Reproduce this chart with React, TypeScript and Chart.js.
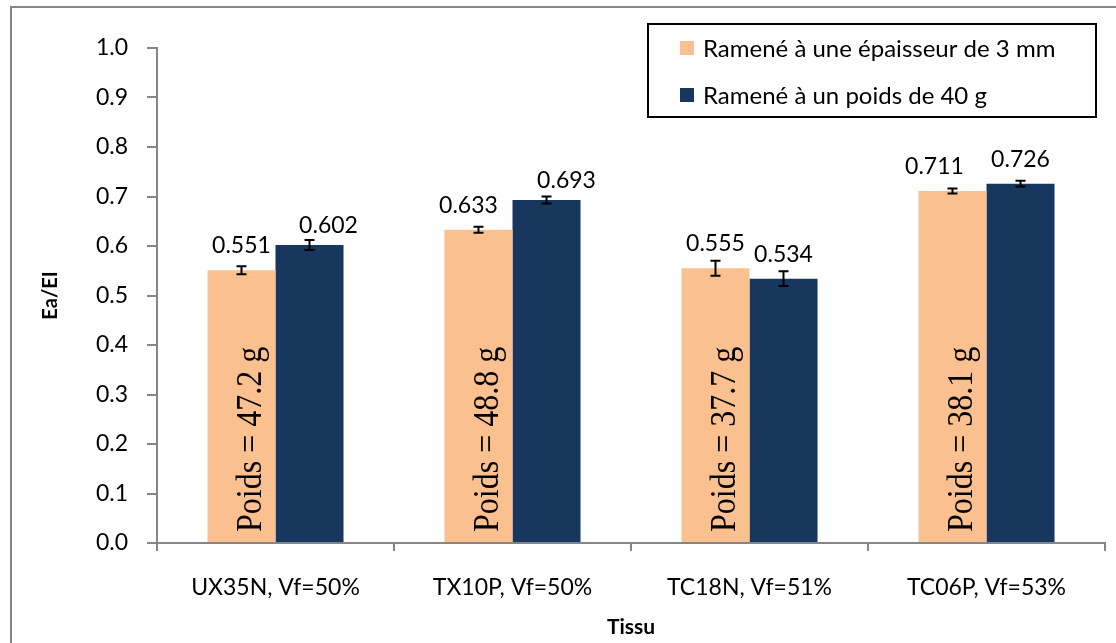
import React, { useEffect, useRef } from "react";
import { Chart, registerables } from "chart.js";

Chart.register(...registerables);

const categories = ["UX35N, Vf=50%", "TX10P, Vf=50%", "TC18N, Vf=51%", "TC06P, Vf=53%"];
const seriesNames = ["Ramené à une épaisseur de 3 mm", "Ramené à un poids de 40 g"];
const thicknessValues = [0.551, 0.633, 0.555, 0.711];
const weightValues = [0.602, 0.693, 0.534, 0.726];
const thicknessErrors = [0.008, 0.006, 0.015, 0.005];
const weightErrors = [0.01, 0.007, 0.015, 0.006];
const poidsLabels = ["Poids = 47.2 g", "Poids = 48.8 g", "Poids = 37.7 g", "Poids = 38.1 g"];
const yAxisTitle = "Ea/EI";
const xAxisTitle = "Tissu";

const ORANGE = "#FAC090";
const NAVY = "#17375E";
const AXIS_GREY = "#868686";
const SANS = "Lato, 'Open Sans', sans-serif";

const frameBorder = {
  id: "frameBorder",
  beforeDraw(chart: any) {
    const { ctx, width, height } = chart;
    ctx.save();
    ctx.fillStyle = "#ffffff";
    ctx.fillRect(0, 0, width, height);
    ctx.strokeStyle = AXIS_GREY;
    ctx.lineWidth = 2;
    ctx.beginPath();
    ctx.moveTo(11, height + 5);
    ctx.lineTo(11, 7);
    ctx.lineTo(width + 5, 7);
    ctx.stroke();
    ctx.restore();
  },
};

const errorAndLabels = {
  id: "errorAndLabels",
  afterDatasetsDraw(chart: any, _args: any, opts: any) {
    const { ctx } = chart;
    const yScale = chart.scales.y;
    ctx.save();
    chart.data.datasets.forEach((ds: any, di: number) => {
      const meta = chart.getDatasetMeta(di);
      meta.data.forEach((bar: any, i: number) => {
        const v = ds.data[i];
        const e = ds.errors[i];
        const x = bar.x;
        const yTop = yScale.getPixelForValue(v + e);
        const yBot = yScale.getPixelForValue(v - e);
        ctx.strokeStyle = "#000";
        ctx.lineWidth = 2;
        ctx.beginPath();
        ctx.moveTo(x, yTop);
        ctx.lineTo(x, yBot);
        ctx.moveTo(x - 5, yTop);
        ctx.lineTo(x + 5, yTop);
        ctx.moveTo(x - 5, yBot);
        ctx.lineTo(x + 5, yBot);
        ctx.stroke();
        const nudge = opts.nudges[di][i];
        ctx.fillStyle = "#000";
        ctx.font = `23px ${SANS}`;
        ctx.textAlign = "center";
        ctx.textBaseline = "alphabetic";
        ctx.fillText(v.toFixed(3), x + nudge[0], bar.y - 17 + nudge[1]);
        if (di === 0) {
          ctx.save();
          ctx.translate(x + 20, yScale.getPixelForValue(0) - 11);
          ctx.rotate(-Math.PI / 2);
          ctx.scale(1, 1.12);
          ctx.font = `32px 'Liberation Serif', 'Times New Roman', serif`;
          ctx.textAlign = "left";
          ctx.textBaseline = "alphabetic";
          ctx.fillStyle = "#000";
          ctx.fillText(poidsLabels[i], 0, 0);
          ctx.restore();
        }
      });
    });
    ctx.restore();
  },
};

const boxLegend = {
  id: "boxLegend",
  afterDraw(chart: any) {
    const { ctx } = chart;
    ctx.save();
    ctx.strokeStyle = "#000";
    ctx.lineWidth = 2;
    ctx.strokeRect(648, 24, 448, 93);
    chart.data.datasets.forEach((ds: any, di: number) => {
      const cy = 48 + di * 47;
      ctx.fillStyle = ds.backgroundColor;
      ctx.fillRect(680, cy - 7, 14, 14);
      ctx.fillStyle = "#000";
      ctx.font = `24px ${SANS}`;
      ctx.textAlign = "left";
      ctx.textBaseline = "middle";
      ctx.fillText(ds.label, 703, cy + 1);
    });
    ctx.restore();
  },
};

export default function App() {
  const ref = useRef<HTMLCanvasElement | null>(null);
  useEffect(() => {
    document.body.style.margin = "0";
    const canvas = ref.current;
    if (!canvas) return;
    const chart = new Chart(canvas, {
      type: "bar",
      data: {
        labels: categories,
        datasets: [
          {
            label: seriesNames[0],
            data: thicknessValues,
            errors: thicknessErrors,
            backgroundColor: ORANGE,
            borderWidth: 0,
            barPercentage: 1,
            categoryPercentage: 0.574,
          } as any,
          {
            label: seriesNames[1],
            data: weightValues,
            errors: weightErrors,
            backgroundColor: NAVY,
            borderWidth: 0,
            barPercentage: 1,
            categoryPercentage: 0.574,
          } as any,
        ],
      },
      options: {
        animation: false,
        responsive: false,
        maintainAspectRatio: false,
        layout: { padding: { left: 0, top: 48, right: 11, bottom: 0 } },
        plugins: {
          legend: { display: false },
          tooltip: { enabled: false },
          errorAndLabels: {
            nudges: [
              [[0, 0], [-10, 0], [0, 0], [-18, 0]],
              [[19, 5], [20, 5], [0, 0], [0, 0]],
            ],
          },
        } as any,
        scales: {
          x: {
            grid: {
              display: true,
              offset: true,
              drawOnChartArea: false,
              drawTicks: true,
              tickLength: 8,
              color: AXIS_GREY,
              lineWidth: 2,
            },
            border: { display: true, color: AXIS_GREY, width: 2 },
            ticks: { color: "#000", font: { family: SANS, size: 23 }, padding: 23, maxRotation: 0 },
            title: {
              display: true,
              text: xAxisTitle,
              color: "#000",
              font: { family: SANS, size: 21, weight: "bold" },
              padding: { top: 0, bottom: 3 },
            },
            afterFit(scale: any) {
              scale.height = 100;
            },
          },
          y: {
            min: 0,
            max: 1,
            grid: {
              display: true,
              drawOnChartArea: false,
              drawTicks: true,
              tickLength: 10,
              color: AXIS_GREY,
              lineWidth: 2,
            },
            border: { display: true, color: AXIS_GREY, width: 2 },
            ticks: {
              stepSize: 0.1,
              color: "#000",
              font: { family: SANS, size: 23 },
              padding: 19,
              callback: (v: any) => Number(v).toFixed(1),
            },
            title: {
              display: true,
              text: yAxisTitle,
              color: "#000",
              font: { family: SANS, size: 20, weight: "bold" },
              padding: { top: 39, bottom: 0 },
            },
            afterFit(scale: any) {
              scale.width = 157;
            },
          },
        },
      },
      plugins: [frameBorder, errorAndLabels, boxLegend],
    });
    return () => chart.destroy();
  }, []);
  return (
    <div style={{ width: 1116, height: 643 }}>
      <canvas ref={ref} width={1116} height={643} style={{ display: "block", width: 1116, height: 643 }} />
    </div>
  );
}
